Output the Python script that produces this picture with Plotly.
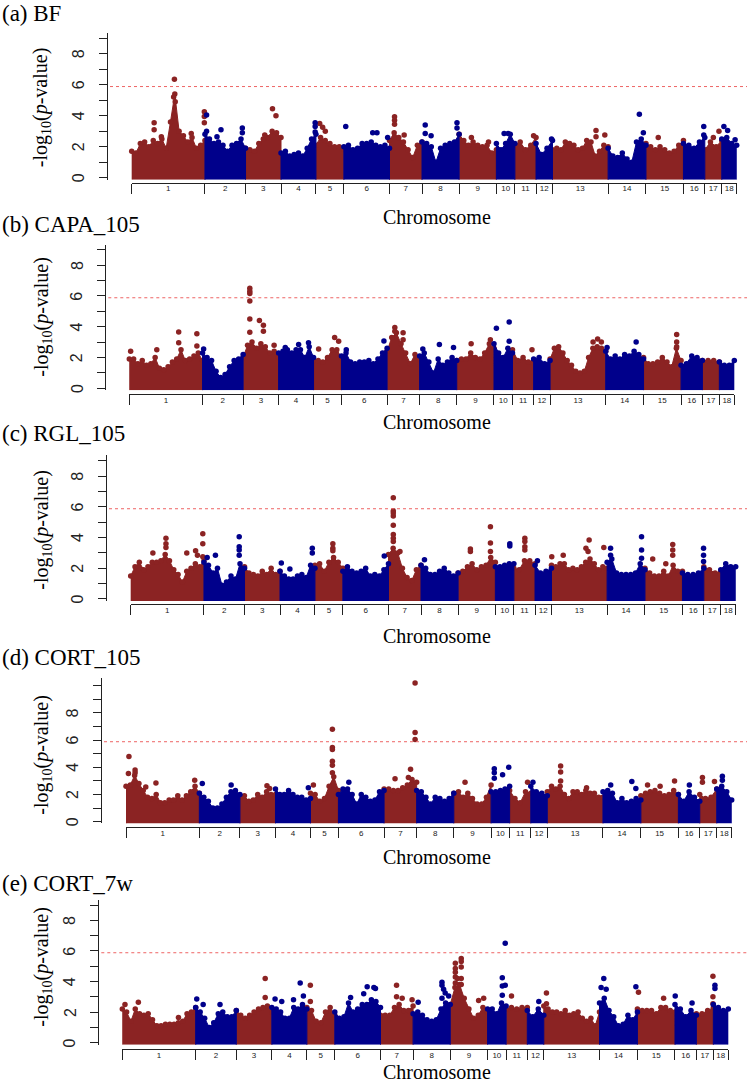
import numpy as np
import plotly.graph_objects as go

# ---------------- data ----------------
CHROMS = [str(i) for i in range(1, 19)]
CHR_LEN_MB = [274.33, 151.94, 132.85, 130.91, 104.53, 170.84, 121.84, 138.97, 139.51,
              69.36, 79.17, 61.60, 208.33, 141.76, 140.41, 79.94, 63.49, 55.98]
THRESHOLD = 5.88
PANEL_TITLES = ["(a) BF", "(b) CAPA_105", "(c) RGL_105", "(d) CORT_105", "(e) CORT_7w"]

# upper edge of the dense SNP cloud, evenly spaced along each chromosome (-log10 p)
A_ENV = [
    [1.7, 1.6, 2.2, 2.3, 2.0, 2.4, 2.2, 2.5, 1.9, 3.6, 5.4, 3.0, 2.7, 2.3, 2.6, 1.9, 2.1, 2.4],
    [2.8, 2.5, 2.2, 2.3, 2.1, 1.7, 2.1, 2.2, 2.5, 1.9],
    [1.9, 1.8, 1.7, 2.2, 2.5, 2.6, 3.0, 2.9, 2.6],
    [1.6, 1.7, 1.4, 1.5, 1.6, 1.4, 1.9, 2.5, 2.8],
    [2.1, 2.6, 2.4, 2.2, 2.0, 2.0, 1.8],
    [2.0, 2.1, 1.8, 1.9, 2.2, 2.2, 2.3, 2.1, 2.0, 2.1, 1.9],
    [2.4, 2.9, 2.6, 2.3, 1.8, 1.3, 2.1, 2.3],
    [2.3, 2.2, 2.0, 1.0, 1.9, 2.1, 2.2, 2.3, 2.8],
    [2.8, 2.4, 2.1, 2.3, 2.1, 2.0, 2.1, 1.6, 1.8],
    [2.2, 1.8, 2.2, 2.8, 2.2],
    [2.1, 2.3, 1.8, 2.1, 2.6],
    [2.2, 1.5, 1.9, 2.4],
    [1.8, 1.9, 1.8, 2.3, 2.2, 2.1, 1.8, 1.9, 2.4, 2.3, 1.4, 1.7, 2.1, 2.0],
    [1.9, 1.4, 1.3, 1.6, 1.2, 1.0, 2.3, 2.5, 2.1],
    [2.2, 2.0, 1.8, 2.0, 1.8, 1.6, 1.7, 2.1, 2.4],
    [2.2, 2.1, 1.9, 2.3, 2.6],
    [1.8, 2.3, 2.0, 2.4],
    [2.5, 2.6, 2.2, 2.1],
]
# isolated SNPs: (chromosome, position in Mb, -log10 p)
A_PEAKS = [
    (1, 84, 3.55), (1, 84, 3.1), (1, 111, 2.65), (1, 160, 6.35), (1, 157, 5.2), (1, 163, 4.9),
    (1, 223, 2.85), (1, 272, 4.25), (1, 272, 3.95), (1, 272, 3.55),
    (2, 6, 4.05), (2, 6, 3.0), (2, 45, 2.65), (2, 60, 3.1), (2, 140, 3.2), (2, 140, 2.9),
    (3, 101, 4.45), (3, 114, 4.0), (3, 72, 2.75),
    (4, 128, 3.55), (4, 128, 3.3), (4, 128, 2.95),
    (5, 14, 3.5), (5, 25, 3.25), (5, 35, 3.0),
    (6, 7, 3.3), (6, 108, 2.9), (6, 124, 2.9), (6, 164, 2.6),
    (7, 19, 3.94), (7, 19, 3.7), (7, 19, 3.45), (7, 55, 2.75),
    (8, 12, 3.4), (8, 12, 2.85), (8, 34, 2.7), (8, 131, 3.55), (8, 131, 3.2),
    (9, 46, 2.6), (9, 110, 2.3),
    (10, 29, 2.85), (10, 44, 2.85),
    (11, 70, 2.7), (12, 58, 2.5),
    (13, 163, 3.05), (13, 163, 2.65), (13, 196, 2.75),
    (14, 117, 4.1), (14, 132, 2.9),
    (15, 46, 2.6),
    (16, 76, 3.3), (16, 76, 2.75),
    (17, 32, 2.6), (17, 53, 3.0),
    (18, 8, 3.3), (18, 22, 3.05), (18, 50, 2.45),
]

B_ENV = [
    [1.9, 1.9, 1.6, 1.8, 1.5, 1.6, 2.0, 1.3, 1.2, 1.4, 1.7, 1.9, 2.5, 1.8, 1.9, 2.1, 2.3, 1.8],
    [2.3, 2.0, 1.8, 1.1, 0.7, 0.9, 1.4, 1.8, 1.9, 2.2],
    [2.0, 2.8, 3.0, 2.6, 2.9, 2.7, 2.3, 2.4, 2.0],
    [2.3, 2.4, 2.5, 2.3, 2.5, 2.5, 2.0, 2.7, 2.0],
    [1.8, 1.8, 1.7, 2.0, 2.5, 2.5, 2.0],
    [2.1, 2.3, 1.7, 1.6, 1.7, 1.7, 1.8, 1.6, 1.9, 2.3, 2.6],
    [2.4, 3.3, 3.6, 2.9, 2.3, 1.6, 2.2, 1.9],
    [2.1, 2.3, 1.7, 1.0, 1.9, 1.5, 1.7, 2.0, 1.8],
    [1.8, 1.9, 1.9, 2.3, 2.0, 1.9, 2.3, 2.9, 2.6],
    [2.9, 2.3, 2.0, 2.6, 2.3],
    [2.5, 1.8, 2.0, 1.7, 1.8],
    [1.9, 2.0, 1.6, 1.8],
    [1.9, 2.6, 2.7, 2.3, 1.8, 1.5, 1.1, 1.0, 1.1, 2.0, 2.6, 2.7, 2.6, 2.4],
    [2.4, 1.9, 2.1, 1.9, 2.2, 2.1, 2.4, 2.2, 1.9],
    [2.0, 1.6, 1.6, 1.7, 2.0, 1.7, 1.4, 2.6, 1.8],
    [1.5, 1.6, 2.1, 2.0, 1.8],
    [1.8, 1.8, 1.8, 1.7],
    [1.7, 1.5, 1.5, 1.8],
]
B_PEAKS = [
    (1, 5, 2.4), (1, 103, 2.5), (1, 185, 3.65), (1, 185, 2.95), (1, 253, 3.55), (1, 253, 2.75),
    (2, 4, 2.55),
    (3, 25, 6.5), (3, 25, 6.3), (3, 25, 6.15), (3, 25, 5.67), (3, 25, 4.5), (3, 25, 3.64),
    (3, 61, 4.4), (3, 76, 4.1), (3, 76, 3.7), (3, 116, 2.8),
    (4, 25, 2.65), (4, 75, 2.85), (4, 112, 2.95),
    (5, 19, 2.55), (5, 79, 3.3), (5, 94, 3.05),
    (6, 159, 3.07), (6, 18, 2.5),
    (7, 29, 3.95), (7, 29, 3.7), (7, 60, 3.6), (7, 60, 3.15),
    (8, 12, 2.55), (8, 74, 2.85), (8, 127, 2.65),
    (9, 54, 2.9), (9, 126, 3.15),
    (10, 9, 3.9), (10, 57, 4.3), (10, 57, 3.05),
    (11, 73, 2.5),
    (13, 178, 3.2), (13, 161, 3.0), (13, 192, 3.0),
    (14, 5, 2.65), (14, 114, 3.0),
    (15, 124, 3.5), (15, 124, 3.0), (15, 124, 2.7),
    (18, 56, 2.25),
]

C_ENV = [
    [1.5, 2.1, 2.4, 1.9, 2.1, 2.4, 2.4, 2.5, 2.9, 2.5, 1.9, 1.6, 1.1, 1.8, 2.0, 2.3, 2.1, 2.5],
    [2.4, 2.2, 1.7, 2.0, 0.9, 1.1, 1.5, 1.3, 2.3, 2.0],
    [2.1, 1.7, 1.6, 1.5, 1.8, 1.6, 2.0, 1.6, 1.8],
    [1.8, 1.5, 1.3, 1.3, 1.5, 1.6, 1.4, 2.2, 2.0],
    [2.2, 2.3, 1.8, 2.4, 2.7, 2.4, 2.0],
    [1.8, 2.1, 1.8, 1.7, 1.8, 2.0, 1.5, 1.6, 1.5, 1.9, 2.3],
    [2.9, 3.3, 3.0, 2.0, 1.4, 1.2, 1.9, 2.2],
    [2.2, 2.0, 1.6, 1.6, 1.8, 2.0, 1.7, 1.5, 1.7],
    [1.7, 1.8, 2.1, 2.3, 1.9, 2.1, 2.2, 2.7, 2.4],
    [2.1, 2.1, 2.2, 2.3, 2.3],
    [2.0, 1.9, 2.5, 2.5, 2.3],
    [2.2, 1.7, 1.8, 2.0],
    [2.2, 2.1, 2.3, 2.3, 1.9, 2.0, 1.9, 2.1, 2.4, 2.6, 2.3, 1.9, 2.1, 2.0],
    [2.4, 2.6, 1.7, 1.6, 1.6, 1.6, 1.7, 2.3, 1.9],
    [2.0, 1.7, 1.5, 1.5, 1.8, 1.5, 2.2, 1.8, 1.8],
    [1.7, 1.6, 1.6, 1.7, 2.0],
    [2.1, 1.9, 1.7, 1.8],
    [1.9, 2.3, 2.1, 2.1],
]
C_PEAKS = [
    (1, 83, 3.0), (1, 132, 3.95), (1, 132, 3.6), (1, 132, 3.35), (1, 210, 3.0), (1, 243, 3.15),
    (1, 250, 2.85), (1, 270, 4.25), (1, 270, 3.6), (1, 270, 2.75),
    (2, 12, 2.7), (2, 43, 2.85), (2, 132, 4.05), (2, 132, 3.4), (2, 132, 3.2), (2, 132, 2.85),
    (4, 5, 2.35), (4, 37, 1.95), (4, 121, 3.3), (4, 121, 3.0),
    (5, 67, 3.6), (5, 67, 3.3), (5, 67, 3.15),
    (6, 155, 2.8),
    (7, 18, 6.6), (7, 18, 5.75), (7, 18, 5.6), (7, 18, 5.4), (7, 18, 4.8), (7, 18, 4.2),
    (7, 18, 3.95), (7, 18, 3.75), (7, 43, 3.1),
    (8, 13, 2.55),
    (9, 46, 3.25), (9, 46, 3.1), (9, 121, 4.7), (9, 121, 3.65), (9, 121, 3.1),
    (10, 54, 3.6), (10, 54, 3.45),
    (11, 41, 3.95), (11, 41, 3.75), (11, 41, 3.4), (11, 41, 3.2),
    (12, 9, 2.5),
    (13, 1, 2.75), (13, 44, 2.85), (13, 141, 3.85), (13, 129, 3.3), (13, 137, 3.1), (13, 196, 3.35),
    (14, 13, 3.3), (14, 13, 2.85), (14, 129, 4.05), (14, 129, 3.2), (14, 129, 2.65),
    (15, 29, 2.6), (15, 104, 3.55), (15, 104, 3.2), (15, 104, 2.85), (15, 78, 2.3),
    (16, 79, 3.3), (16, 79, 2.85), (16, 79, 2.45),
]

D_ENV = [
    [2.6, 2.7, 3.4, 2.8, 2.3, 1.8, 1.7, 2.0, 1.4, 1.4, 1.6, 1.6, 1.9, 1.6, 1.9, 2.2, 2.6, 2.1],
    [2.1, 1.8, 1.5, 1.0, 1.0, 1.3, 1.8, 2.2, 2.3, 2.0],
    [1.9, 1.9, 1.5, 1.6, 2.0, 1.8, 2.2, 2.0, 2.0],
    [2.4, 2.0, 2.0, 2.3, 2.0, 1.8, 1.8, 1.6, 1.7],
    [2.1, 2.0, 1.5, 1.7, 2.6, 3.3, 2.3],
    [2.0, 2.4, 2.4, 2.0, 1.3, 2.0, 1.8, 1.5, 1.6, 2.2, 2.3],
    [2.4, 2.4, 2.3, 2.3, 2.5, 2.7, 3.1, 2.9],
    [2.3, 2.2, 1.8, 1.3, 1.8, 1.7, 1.5, 1.7, 2.1],
    [2.1, 2.2, 1.8, 2.1, 1.7, 1.3, 1.3, 1.8, 2.7],
    [2.2, 2.2, 2.3, 2.4, 2.6],
    [2.3, 1.7, 1.4, 2.2, 2.1],
    [2.6, 2.2, 2.1, 1.9],
    [2.2, 2.6, 2.4, 2.6, 2.0, 1.7, 2.2, 2.2, 2.0, 2.3, 2.1, 2.1, 1.8, 1.8],
    [2.2, 2.3, 2.1, 1.4, 1.7, 1.4, 1.5, 1.7, 1.6],
    [1.9, 2.1, 2.2, 2.3, 2.1, 1.9, 2.0, 2.3, 2.0],
    [2.0, 1.5, 2.2, 1.8, 1.5],
    [2.0, 1.7, 1.8, 2.4],
    [2.4, 2.6, 2.2, 1.6],
]
D_PEAKS = [
    (1, 11, 4.8), (1, 9, 3.55), (1, 34, 3.8), (1, 34, 3.6), (1, 74, 2.55), (1, 112, 2.85), (1, 257, 3.05),
    (2, 11, 2.8), (2, 119, 2.7),
    (3, 101, 2.65), (3, 111, 2.45),
    (4, 123, 2.5),
    (5, 82, 6.8), (5, 82, 5.45), (5, 82, 5.3), (5, 82, 4.45), (5, 82, 4.15), (5, 82, 3.6), (5, 11, 2.7),
    (6, 39, 2.9),
    (7, 116, 10.2), (7, 116, 6.55), (7, 116, 6.05), (7, 41, 3.15), (7, 99, 3.85), (7, 91, 3.25),
    (9, 42, 2.9),
    (10, 12, 3.9), (10, 12, 3.6), (10, 12, 3.2), (10, 43, 3.45), (10, 66, 4.0),
    (11, 67, 2.9), (12, 8, 2.9),
    (13, 50, 4.1), (13, 50, 3.65), (13, 50, 3.0), (13, 147, 2.5),
    (14, 29, 2.7), (14, 108, 2.95), (14, 123, 2.45),
    (15, 25, 2.7), (15, 72, 2.6), (15, 126, 3.0),
    (16, 41, 2.7),
    (17, 10, 3.25), (17, 10, 2.9), (17, 55, 2.95),
    (18, 21, 3.35), (18, 21, 3.05),
]

E_ENV = [
    [2.2, 2.0, 1.4, 2.2, 1.9, 1.8, 1.9, 1.5, 1.1, 1.1, 1.2, 1.2, 1.2, 1.3, 1.4, 1.9, 2.0, 2.3],
    [2.3, 2.0, 1.6, 1.0, 1.3, 1.9, 2.0, 1.7, 1.7, 2.1],
    [2.1, 1.8, 1.6, 1.8, 2.0, 2.2, 2.3, 2.4, 2.0],
    [2.3, 2.2, 2.0, 1.6, 1.6, 2.3, 2.2, 2.5, 2.2],
    [2.3, 2.1, 1.4, 1.3, 2.0, 2.3, 1.8],
    [2.0, 1.6, 1.7, 2.6, 2.0, 2.2, 2.5, 2.5, 2.8, 2.7, 2.3],
    [1.8, 1.8, 1.8, 2.3, 2.5, 2.1, 2.1, 2.4],
    [1.9, 2.0, 1.8, 1.5, 1.4, 1.5, 2.2, 2.6, 2.5],
    [2.5, 3.6, 3.8, 2.9, 2.2, 1.6, 1.8, 2.3, 2.0],
    [2.2, 2.2, 1.9, 2.6, 2.4],
    [2.2, 2.3, 2.2, 2.3, 2.3],
    [2.1, 1.7, 2.2, 1.8],
    [2.4, 2.2, 2.0, 2.0, 1.9, 2.1, 1.8, 1.9, 2.0, 1.6, 1.4, 1.6, 1.1, 2.0],
    [2.6, 2.9, 2.1, 1.7, 1.1, 1.2, 1.8, 1.5, 2.0],
    [2.2, 2.1, 2.1, 2.1, 1.9, 2.3, 2.3, 2.1, 2.0],
    [2.5, 2.2, 1.7, 2.1, 1.8],
    [1.9, 1.9, 2.1, 2.3],
    [2.5, 2.3, 2.1, 2.2],
]
E_PEAKS = [
    (1, 10, 2.5), (1, 60, 2.65), (1, 210, 1.65),
    (2, 4, 2.85), (2, 28, 2.5), (2, 91, 2.5),
    (3, 108, 4.2), (3, 108, 2.95),
    (4, 12, 2.85), (4, 37, 2.7), (4, 81, 2.8), (4, 106, 3.9), (4, 118, 3.05),
    (5, 13, 3.75), (5, 13, 2.7),
    (6, 59, 2.95), (6, 108, 3.2), (6, 121, 3.65), (6, 146, 3.6), (6, 152, 3.55),
    (7, 60, 3.75), (7, 60, 3.0), (7, 81, 2.9), (7, 118, 2.8),
    (8, 19, 2.65), (8, 108, 3.95), (8, 108, 3.75), (8, 108, 2.9), (8, 114, 3.5), (8, 120, 3.25), (8, 133, 3.05),
    (9, 19, 5.2), (9, 19, 4.85), (9, 19, 4.6), (9, 19, 4.3), (9, 19, 3.9),
    (9, 41, 5.5), (9, 41, 5.3), (9, 41, 4.95), (9, 41, 4.2), (9, 41, 3.8), (9, 27, 4.2),
    (9, 106, 2.75), (9, 125, 2.9),
    (10, 66, 6.5), (10, 66, 3.75), (10, 55, 4.25), (10, 55, 3.7), (10, 55, 3.1),
    (11, 20, 3.05), (12, 43, 2.7),
    (13, 10, 3.25), (13, 10, 2.55),
    (14, 16, 4.2), (14, 6, 3.6), (14, 25, 3.5), (14, 136, 3.65),
    (15, 4, 3.3), (15, 98, 2.9),
    (16, 1, 3.05), (16, 64, 2.6),
    (17, 62, 4.35), (17, 62, 3.0), (17, 62, 2.55),
    (18, 6, 3.75), (18, 6, 3.55),
]

ENVS = [A_ENV, B_ENV, C_ENV, D_ENV, E_ENV]
PEAKS = [A_PEAKS, B_PEAKS, C_PEAKS, D_PEAKS, E_PEAKS]
Y_LABELS = [0, 2, 4, 6, 8]

# ---------------- styling / geometry (pixels of the 749x1082 page) ----------------
W, H = 749, 1082
RED, BLUE = "#8B2323", "#00008B"
Y_BASE = -0.13
# zero_y, px_per_unit, y_top, yaxis_x, xaxis_y, x_start, x_end, title_y, ytitle_y, xtitle_y
GEOM = [
    (177.7, 15.5, 9.35, 107.0, 182.7, 131.7, 736.7, 13.5, 107.5, 217.5),
    (388.3, 15.4, 9.30, 105.3, 394.0, 129.3, 734.3, 224.5, 317.0, 421.5),
    (599.0, 15.35, 9.35, 106.0, 604.0, 130.7, 735.7, 434.0, 530.0, 636.0),
    (821.7, 13.6, 10.55, 101.0, 827.3, 126.0, 731.7, 657.0, 755.0, 857.0),
    (1042.7, 15.3, 9.33, 98.3, 1049.0, 122.3, 728.3, 883.5, 967.0, 1072.0),
]
SERIF = "Liberation Serif"
SANS = "Liberation Sans"

total = float(sum(CHR_LEN_MB))
offs = np.concatenate([[0.0], np.cumsum(CHR_LEN_MB)[:-1]])
bounds = list(offs) + [total]
mids = [o + L / 2 for o, L in zip(offs, CHR_LEN_MB)]

fig = go.Figure()
layout = dict(width=W, height=H, margin=dict(l=0, r=0, t=0, b=0),
              paper_bgcolor="white", plot_bgcolor="white", showlegend=False)
annotations, shapes = [], []

for p in range(5):
    i = p + 1
    xa = "x" if i == 1 else f"x{i}"
    ya = "y" if i == 1 else f"y{i}"
    env, peaks = ENVS[p], PEAKS[p]
    zero_y, ppu, ytop, yax_x, xax_y, xs0, xs1, t_y, yt_y, xt_y = GEOM[p]

    for color, parity in ((RED, 0), (BLUE, 1)):
        px, py, mx, my = [], [], [], []
        for c in range(18):
            if c % 2 != parity:
                continue
            L = CHR_LEN_MB[c]
            xs = offs[c] + np.linspace(0, L, len(env[c]))
            px += [offs[c]] + list(xs) + [offs[c] + L, None]
            py += [Y_BASE] + list(env[c]) + [Y_BASE, None]
            mx += list(xs)
            my += list(env[c])
        for (c, pos, val) in peaks:
            if (c - 1) % 2 == parity:
                mx.append(offs[c - 1] + pos)
                my.append(val)
        fig.add_trace(go.Scatter(x=px, y=py, mode="lines", fill="toself", fillcolor=color,
                                 line=dict(color=color, width=1), xaxis=xa, yaxis=ya,
                                 hoverinfo="skip"))
        fig.add_trace(go.Scatter(x=mx, y=my, mode="markers", cliponaxis=False,
                                 marker=dict(color=color, size=5.5, line=dict(width=0)),
                                 xaxis=xa, yaxis=ya))

    key = "" if i == 1 else str(i)
    layout["xaxis" + key] = dict(
        domain=[xs0 / W, xs1 / W], range=[0, total], anchor="free", position=1 - xax_y / H,
        showline=True, linecolor="#222", linewidth=1, showgrid=False, zeroline=False,
        tickmode="array", tickvals=mids, ticktext=CHROMS, ticks="",
        ticklabelstandoff=-2,
        tickfont=dict(family=SANS, size=8, color="#222"),
        minor=dict(tickmode="array", tickvals=bounds, ticks="outside", ticklen=10,
                   tickwidth=1, tickcolor="#222", showgrid=False),
    )
    bot = zero_y - Y_BASE * ppu
    top = zero_y - ytop * ppu
    all_ticks = list(range(0, int(np.floor(ytop)) + 1))
    layout["yaxis" + key] = dict(
        domain=[1 - bot / H, 1 - top / H], range=[Y_BASE, ytop], anchor="free",
        position=yax_x / W, showline=True, linecolor="#222", linewidth=1,
        showgrid=False, zeroline=False, tickmode="array", tickvals=all_ticks,
        showticklabels=False, ticks="outside", ticklen=8, tickcolor="#222",
    )
    # y tick labels (rotated, as in the original R plot)
    for v in Y_LABELS:
        annotations.append(dict(text=str(v), xref="paper", yref=ya, x=(yax_x - 28.5) / W, y=v,
                                xanchor="center", yanchor="middle", textangle=-90,
                                showarrow=False, font=dict(family=SANS, size=16, color="#222")))
    shapes.append(dict(type="line", xref="paper", yref=ya, x0=(yax_x + 3) / W, x1=747 / W,
                       y0=THRESHOLD, y1=THRESHOLD,
                       line=dict(color="rgb(238,100,100)", width=1, dash="dot")))
    annotations.append(dict(text=PANEL_TITLES[p], xref="paper", yref="paper", x=0.0,
                            y=1 - t_y / H, xanchor="left", yanchor="middle", showarrow=False,
                            font=dict(family=SERIF, size=23, color="black")))
    annotations.append(dict(text="-log<sub>10</sub>(<i>p</i>-value)", xref="paper", yref="paper",
                            x=41.7 / W, y=1 - yt_y / H, xanchor="center", yanchor="middle",
                            textangle=-90, showarrow=False,
                            font=dict(family=SERIF, size=20, color="black")))
    annotations.append(dict(text="Chromosome", xref="paper", yref="paper",
                            x=436.5 / W, y=1 - xt_y / H, xanchor="center", yanchor="middle",
                            showarrow=False, font=dict(family=SERIF, size=20, color="black")))

layout["annotations"] = annotations
layout["shapes"] = shapes
fig.update_layout(**layout)
fig.write_html("out.html", config={"displayModeBar": False},
               post_script="document.body.style.margin='0';document.body.style.overflow='hidden';")
